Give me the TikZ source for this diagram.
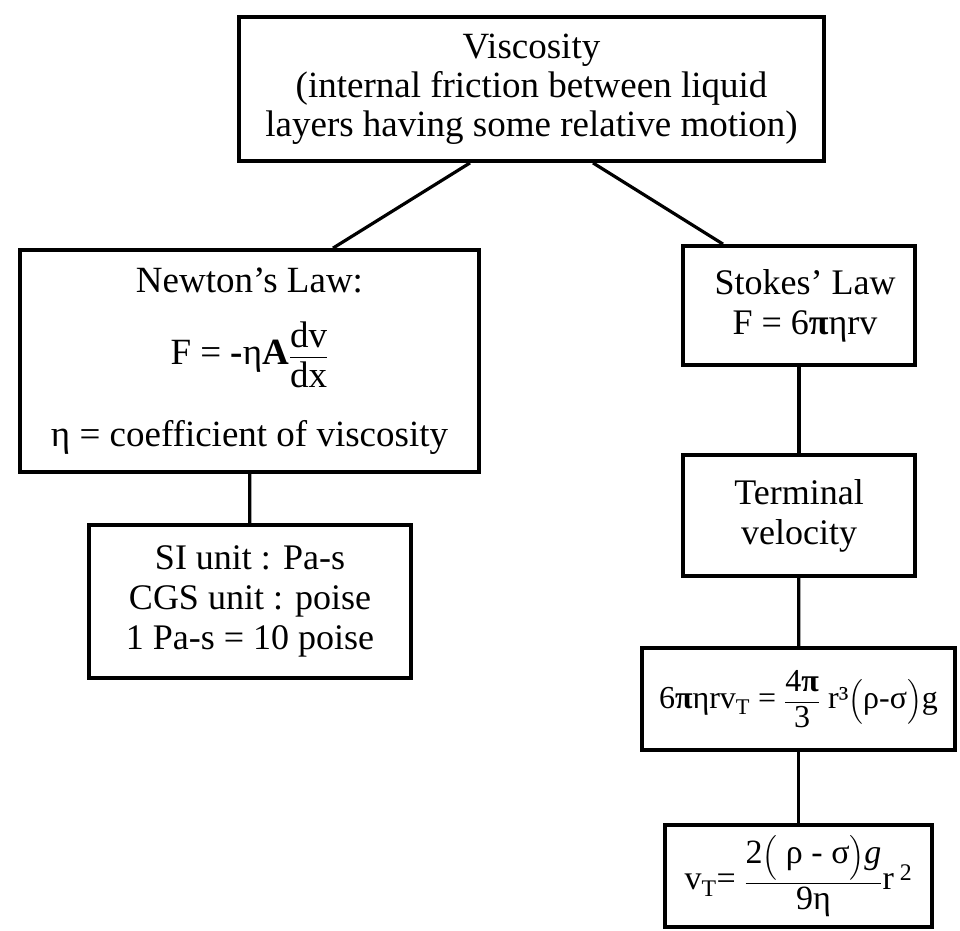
\documentclass[tikz,border=0pt]{standalone}
\usepackage{amsmath}
\usepackage{fontspec}
\setmainfont{Liberation Serif}
\tikzset{
box/.style={
	  draw, line width=3.8pt, align=center, inner sep=0pt,
	    font=\fontsize{36}{40}\selectfont},
link/.style={line width=3.2pt}
}
\newcommand{\pib}{\textbf{π}}

\begin{document}
\begin{tikzpicture}[x=1pt, y=-1pt]
	\useasboundingbox (0,0) rectangle (960,930);
	\node[box, minimum width=585pt, minimum height=144pt, font=\fontsize{37}{39}\selectfont] (visc) at (531.5,89)
		{Viscosity\\(internal friction between liquid\\layers having some relative motion)};
	\node[box, minimum width=459pt, minimum height=222pt, font=\fontsize{37}{40}\selectfont] (newton) at (249.5,361)
		{Newton's Law:\\[28pt] F = \textbf{-}η\textbf{A}$\dfrac{\mbox{dv}}{\mbox{dx}}$\\[32pt] η = coefficient of viscosity};
	\node[box, minimum width=322pt, minimum height=153pt] (si) at (250,601.5)
		{SI unit : Pa-s\\CGS unit : poise\\1 Pa-s = 10 poise};
	\node[box, minimum width=232pt, minimum height=119pt] (stokes) at (799,305.5)
		{\hspace*{12pt}Stokes' Law\\\hspace*{12pt}F = 6\pib ηrv};
	\node[box, minimum width=232pt, minimum height=121pt] (term) at (799,515.5)
		{Terminal\\velocity};
	\node[box, minimum width=313pt, minimum height=102pt, font=\fontsize{32}{36}\selectfont] (eq) at (798.5,699)
		{6\pib ηrv\textsubscript{T} = $\dfrac{\mbox{4\pib}}{\mbox{3}}$ r³$\Bigl(\mbox{ρ-σ}\Bigr)$g};
	\node[box, minimum width=267pt, minimum height=102pt, font=\fontsize{34}{38}\selectfont] (vt) at (798.5,876)
		{v\textsubscript{T}= $\dfrac{\mbox{2$\Bigl($ ρ - σ$\Bigr)$\textit{g}}}{\mbox{9η}}$r\textsuperscript{ 2}};
	% connectors
	\draw[link] ([xshift=-61.5pt]visc.south) -- ([xshift=83.5pt]newton.north);
	\draw[link] ([xshift=61.5pt]visc.south) -- ([xshift=-76pt]stokes.north);
	\draw[link] (newton) -- (si);
	\draw[link] (stokes) -- (term);
	\draw[link] (term) -- (eq);
	\draw[link] (eq) -- (vt);
\end{tikzpicture}
\end{document}
